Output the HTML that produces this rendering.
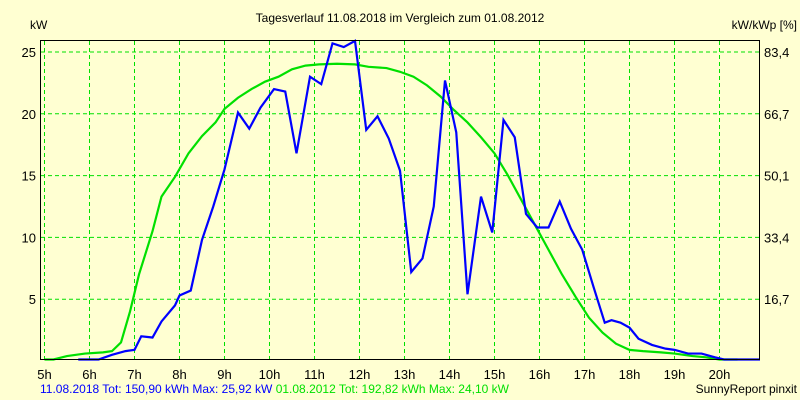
<!DOCTYPE html>
<html><head><meta charset="utf-8"><style>
body{margin:0;background:#ffffd2;}
svg{display:block;font-family:"Liberation Sans",sans-serif;font-size:12px;}
.tk{font-size:13px;}
</style></head><body>
<svg id="c" width="800" height="400">
<rect width="800" height="400" fill="#ffffd2"/>
<text x="400" y="22" text-anchor="middle" fill="#000">Tagesverlauf 11.08.2018 im Vergleich zum 01.08.2012</text>
<text x="30" y="29" fill="#000">kW</text>
<text x="797" y="29" text-anchor="end" fill="#000">kW/kWp [%]</text>
<g id="grid"></g><g id="ticks" class="tk"></g>
<polyline id="green" fill="none" stroke="#00e000" stroke-width="2.2"/>
<polyline id="blue" fill="none" stroke="#0000ff" stroke-width="2.2"/>
<rect x="40.5" y="40.5" width="719" height="319" fill="none" stroke="#000"/>
<text x="40" y="393" fill="#0000ff">11.08.2018 Tot: 150,90 kWh Max: 25,92 kW <tspan fill="#00e000">01.08.2012 Tot: 192,82 kWh Max: 24,10 kW</tspan></text>
<text x="797" y="393" text-anchor="end" fill="#000">SunnyReport pinxit</text>
</svg>
<script>
const hourTicks=[5,6,7,8,9,10,11,12,13,14,15,16,17,18,19,20];
const yTicks=[5,10,15,20,25];
const y2Labels=["16,7","33,4","50,1","66,7","83,4"];
const blueT=[5.75,6.0,6.2,6.5,6.8,7.0,7.15,7.4,7.6,7.9,8.0,8.25,8.5,8.75,9.0,9.3,9.55,9.8,10.1,10.35,10.6,10.9,11.15,11.4,11.65,11.9,12.15,12.4,12.65,12.9,13.15,13.4,13.65,13.9,14.15,14.4,14.7,14.95,15.2,15.45,15.7,15.95,16.2,16.45,16.7,16.95,17.2,17.45,17.6,17.8,18.0,18.2,18.5,18.8,19.0,19.3,19.6,19.9,20.1,20.5,20.9];
const blueV=[0,0,0.1,0.5,0.8,0.9,2.0,1.9,3.2,4.5,5.3,5.7,9.8,12.5,15.5,20.1,18.8,20.5,22.0,21.8,16.8,23.0,22.4,25.7,25.4,25.9,18.7,19.8,18.0,15.4,7.2,8.3,12.5,22.7,18.5,5.4,13.3,10.4,19.5,18.1,11.9,10.8,10.8,12.9,10.7,9.0,6.0,3.1,3.3,3.1,2.7,1.8,1.3,1.0,0.9,0.6,0.6,0.3,0.05,0,0];
const greenT=[5,5.2,5.5,5.9,6.3,6.5,6.7,6.9,7.1,7.4,7.6,7.9,8.2,8.5,8.8,9.0,9.3,9.6,9.9,10.2,10.5,10.8,11.1,11.5,11.9,12.2,12.6,12.9,13.2,13.5,13.8,14.1,14.4,14.7,15.0,15.3,15.6,15.9,16.2,16.5,16.8,17.1,17.4,17.7,18.0,18.3,18.7,19.0,19.4,19.7,20.0,20.4];
const greenV=[0,0,0.4,0.6,0.7,0.8,1.5,4.0,7.0,10.5,13.3,14.9,16.8,18.2,19.3,20.4,21.3,22.0,22.6,23.0,23.6,23.9,24.0,24.05,24.0,23.8,23.7,23.4,23.0,22.3,21.4,20.3,19.3,18.1,16.8,15.0,13.0,11.0,9.0,7.0,5.2,3.5,2.3,1.4,0.9,0.8,0.7,0.6,0.4,0.3,0.05,0];
const xs=h=>44.5+(h-5)*45;
const ys=v=>Math.min(359.5,361-12.36*v);
const NS="http://www.w3.org/2000/svg";
const grid=document.getElementById('grid'),ticks=document.getElementById('ticks');
function mk(tag,a,p){const e=document.createElementNS(NS,tag);for(const k in a)e.setAttribute(k,a[k]);p.appendChild(e);return e;}
hourTicks.forEach(h=>{
 const l=mk('line',{x1:xs(h),x2:xs(h),y1:41,y2:359,stroke:'#00e000','stroke-dasharray':'4,3'},grid);
 
 
 const t=mk('text',{x:xs(h),y:379,'text-anchor':'middle',fill:'#000'},ticks);t.textContent=h+'h';
 
 
});
yTicks.forEach((v,i)=>{
 const l=mk('line',{x1:41,x2:759,y1:ys(v),y2:ys(v),stroke:'#00e000','stroke-dasharray':'4,3'},grid);
 
 
 const t=mk('text',{x:36,y:ys(v)+5,'text-anchor':'end',fill:'#000'},ticks);t.textContent=v;
 
 
 const t2=mk('text',{x:764,y:ys(v)+5,fill:'#000'},ticks);t2.textContent=y2Labels[i];
 
 
});
document.getElementById('blue').setAttribute('points',blueT.map((t,i)=>xs(t)+','+ys(blueV[i])).join(' '));
document.getElementById('green').setAttribute('points',greenT.map((t,i)=>xs(t)+','+ys(greenV[i])).join(' '));
</script>
</body></html>
